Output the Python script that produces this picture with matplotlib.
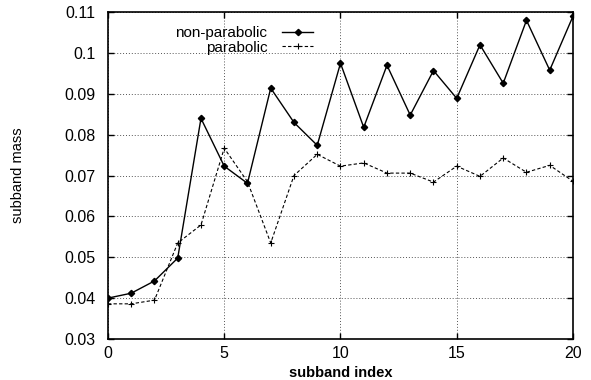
#! /usr/bin/env python3
"""
Subband mass versus subband index, parabolic and non-parabolic
"""

import matplotlib
matplotlib.use('Agg')
import matplotlib.pyplot as plt

plt.rcParams['font.family'] = ['Liberation Sans', 'DejaVu Sans']

# data
subband_index = list(range(21))
non_parabolic = [0.0400, 0.0412, 0.0442, 0.0498, 0.0840, 0.0723, 0.0681,
                 0.0914, 0.0830, 0.0774, 0.0975, 0.0818, 0.0970, 0.0848,
                 0.0957, 0.0889, 0.1020, 0.0926, 0.1080, 0.0958, 0.1090]
parabolic = [0.0386, 0.0386, 0.0395, 0.0535, 0.0579, 0.0767, 0.0685,
             0.0535, 0.0700, 0.0752, 0.0723, 0.0731, 0.0706, 0.0706,
             0.0684, 0.0723, 0.0698, 0.0743, 0.0708, 0.0725, 0.0686]
x_ticks = [0, 5, 10, 15, 20]
y_ticks = [0.03, 0.04, 0.05, 0.06, 0.07, 0.08, 0.09, 0.1, 0.11]
y_tick_labels = ['0.03', '0.04', '0.05', '0.06', '0.07', '0.08', '0.09',
                 '0.1', '0.11']


def main():
    fig = plt.figure(figsize=(5.91, 3.80), dpi=100)
    ax = fig.add_axes([0.1827, 0.108, 0.7868, 0.860])
    ax.plot(subband_index, non_parabolic, color='black', lw=1.0,
            marker='D', ms=3.2, label='non-parabolic')
    ax.plot(subband_index, parabolic, color='black', lw=0.8, ls=(0, (3, 2)),
            marker='+', ms=5, mew=0.8, label='parabolic')
    ax.set_xlim(0, 20)
    ax.set_ylim(0.03, 0.11)
    ax.set_xticks(x_ticks)
    ax.set_yticks(y_ticks)
    ax.set_yticklabels(y_tick_labels)
    ax.tick_params(direction='in', top=True, right=True, labelsize=11.5,
                   length=4, width=1.0)
    ax.tick_params(axis='y', pad=9)
    ax.tick_params(axis='x', pad=5)
    ax.grid(True, ls=(0, (1, 2)), color='#555555', lw=0.7)
    for side in ax.spines.values():
        side.set_linewidth(1.2)
    ax.set_xlabel('subband index', fontsize=10.5, fontweight='bold',
                  labelpad=4)
    ax.set_ylabel('subband mass', fontsize=10.5, labelpad=28)
    ax.legend(loc='upper left', bbox_to_anchor=(0.115, 1.0), frameon=False,
              markerfirst=False, fontsize=11, handlelength=2.0,
              labelspacing=0.05, handletextpad=1.0)
    fig.savefig('out.png', dpi=100)


if __name__ == '__main__':
    main()
